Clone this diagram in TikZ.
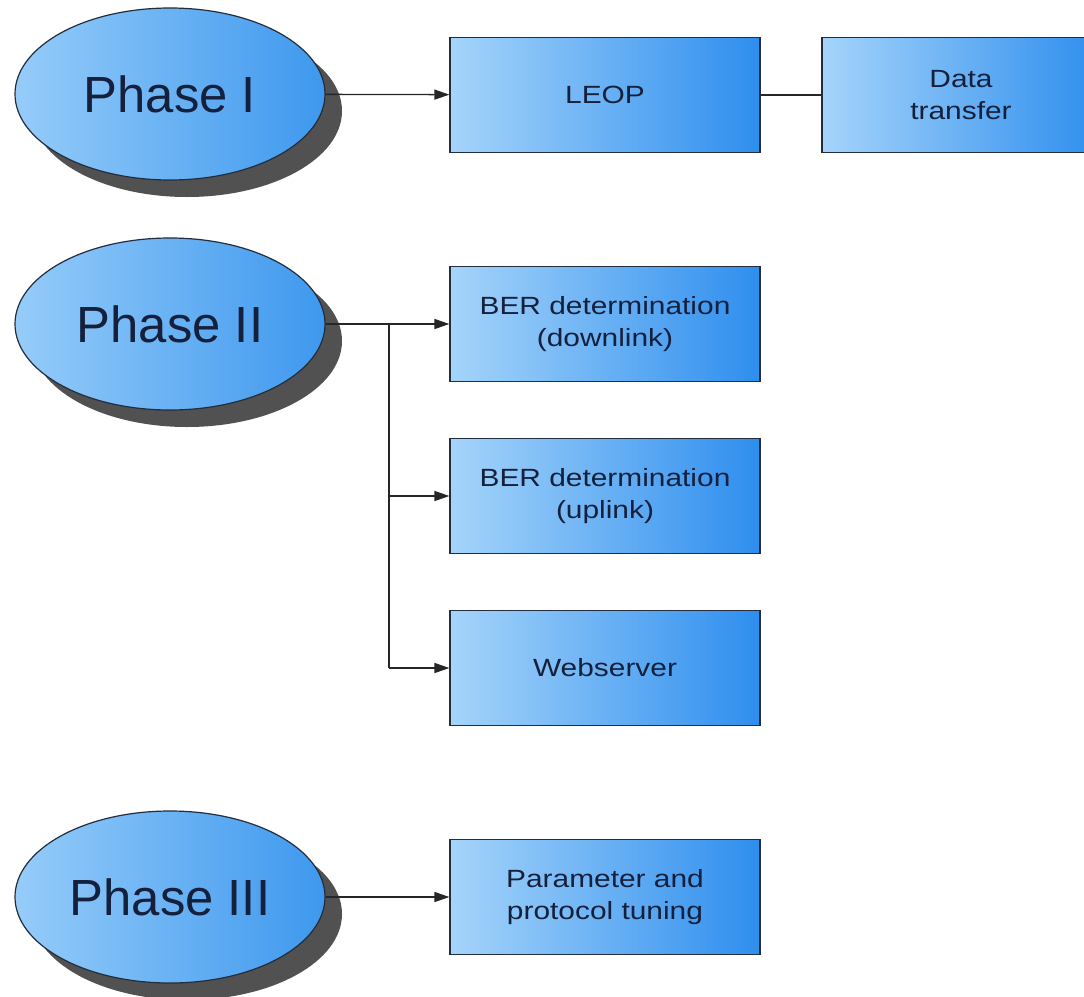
\documentclass[tikz,border=0pt]{standalone}
\usepackage{fontspec}
\setmainfont{Liberation Sans}
\newfontfamily\taskfont[FakeStretch=1.2]{Liberation Sans}
\usetikzlibrary{shapes.geometric,shadows,arrows.meta}
\definecolor{phaseblue}{RGB}{62,152,238}
\definecolor{phasemid}{RGB}{92,172,244}
\definecolor{phaselight}{RGB}{150,204,249}
\definecolor{taskblue}{RGB}{46,142,238}
\definecolor{taskmid}{RGB}{88,168,245}
\definecolor{tasklight}{RGB}{165,212,250}
\definecolor{inkblue}{RGB}{20,32,60}
\definecolor{edgeline}{RGB}{35,45,62}
\definecolor{shadowgrey}{RGB}{72,72,72}

\begin{document}
\begin{tikzpicture}[x=1bp, y=-1bp,
    phase/.style={ellipse, draw=edgeline, line width=1.2bp,
        minimum width=310bp, minimum height=172bp, inner sep=0pt,
        left color=phaselight, middle color=phasemid, right color=phaseblue,
        drop shadow={shadow xshift=17bp, shadow yshift=-17bp,
            fill=shadowgrey, opacity=0.95},
        text=inkblue, font=\fontsize{51}{60}\selectfont},
    task/.style={rectangle, draw=edgeline, line width=1.2bp,
        minimum width=310bp, minimum height=115bp, inner sep=0pt,
        left color=tasklight, middle color=taskmid, right color=taskblue,
        text=inkblue, align=center, font=\taskfont\fontsize{25}{33}\selectfont},
    link/.style={draw=black!85, line width=1.3bp},
    arrow/.style={link, -{Triangle[length=15bp, width=10bp]}}]
    \clip (0,0) rectangle (1084,997);
    \fill[white] (0,0) rectangle (1084,997);

    % Phase I
    \node[phase] (p1) at (170,94) {Phase I};
    \node[task] (leop) at (605,95) {LEOP};
    \node[task, minimum width=278bp] (data) at (961,95) {Data\\transfer};
    \draw[arrow] (p1) -- (leop);
    \draw[link] (leop) -- (data);

    % Phase II
    \node[phase] (p2) at (170,324) {Phase II};
    \node[task] (berdown) at (605,324) {BER determination\\(downlink)};
    \node[task] (berup) at (605,496) {BER determination\\(uplink)};
    \node[task] (web) at (605,668) {Webserver};
    \coordinate (split) at (389,324);
    \draw[arrow] (p2) -- (berdown);
    \draw[link] (split) -- (split |- web);
    \draw[arrow] (split |- berup) -- (berup);
    \draw[arrow] (split |- web) -- (web);

    % Phase III
    \node[phase] (p3) at (170,897) {Phase III};
    \node[task] (tuning) at (605,897) {Parameter and\\protocol tuning};
    \draw[arrow] (p3) -- (tuning);
\end{tikzpicture}
\end{document}
